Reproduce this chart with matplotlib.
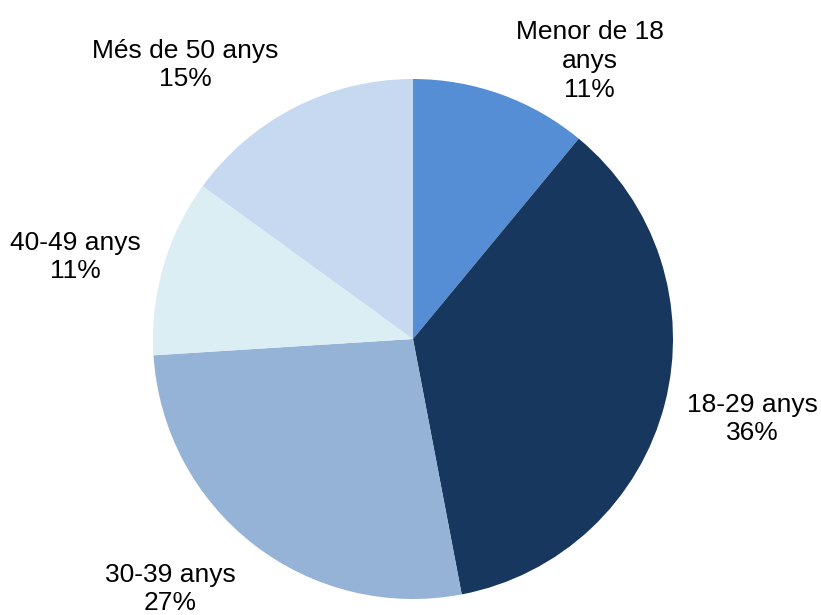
import matplotlib
matplotlib.use("Agg")
import matplotlib.pyplot as plt

# age groups and shares (%)
labels = ["Menor de 18\nanys", "18-29 anys", "30-39 anys", "40-49 anys", "Més de 50 anys"]
shares = [11, 36, 27, 11, 15]
colors = ["#558ED5", "#17375E", "#95B3D7", "#DBEEF4", "#C6D9F1"]

# label centres, in units of the pie radius
label_pos = [(0.68, 1.07), (1.305, -0.308), (-0.935, -0.962), (-1.30, 0.315), (-0.877, 1.054)]

plt.rcParams["font.family"] = ["Liberation Sans", "DejaVu Sans"]

fig = plt.figure(figsize=(8.21, 6.15), dpi=100)
ax = fig.add_axes([0, 0, 1, 1])

wedges, texts = ax.pie(shares, colors=colors, startangle=90, counterclock=False,
                       radius=1.0, labels=["%s\n%d%%" % (l, s) for l, s in zip(labels, shares)])
for t, (x, y) in zip(texts, label_pos):
    t.set_position((x, y))
    t.set_ha("center")
    t.set_va("center")
    t.set_fontsize(19)
    t.set_multialignment("center")
    t.set_linespacing(1.25)

ax.set_aspect("auto")
ax.set_xlim(-413 / 260, (821 - 413) / 260)
ax.set_ylim((339 - 615) / 260, 339 / 260)
ax.axis("off")

fig.savefig("out.png", dpi=100)
